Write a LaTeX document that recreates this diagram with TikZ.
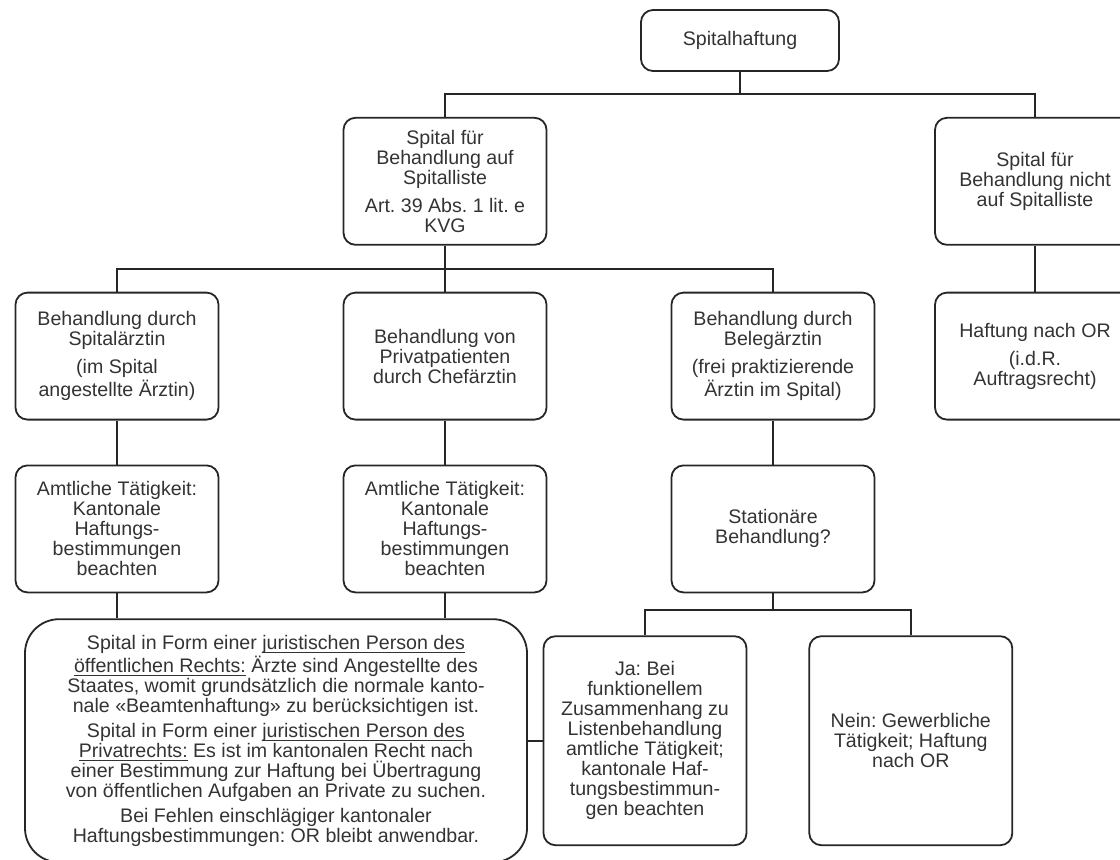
\documentclass[tikz,border=0pt]{standalone}
\usepackage{fontspec}
\setmainfont{Liberation Sans}
\usepackage{tikz}
\usetikzlibrary{positioning}
\definecolor{inkgray}{HTML}{333333}
\newcommand{\flatul}[1]{\setbox0\hbox{#1}\rlap{\smash{\rule[-1.7pt]{\wd0}{0.45pt}}}\box0\relax}
\frenchspacing

\begin{document}
\begin{tikzpicture}
  \tikzstyle{element}=[rectangle, rounded corners=6pt, draw=black!85, line width=0.9pt, minimum width=101.5pt, minimum height=63.5pt, inner sep=2pt, align=center, text=inkgray, font=\fontsize{9.8}{10}\selectfont]
  \tikzstyle{branch}=[draw=black!85, line width=0.9pt]

  \useasboundingbox (0,0) rectangle (560pt,-429.5pt);
  \clip (0,0) rectangle (560pt,-429.5pt);

  % root
  \node[element, minimum width=99pt, minimum height=30.5pt] (haftung) at (370pt,-20.25pt) {Spitalhaftung};

  % = spital auf / nicht auf spitalliste =
  \node[element, below=22.5pt of haftung, xshift=-147.5pt] (aufliste) {Spital für\\Behandlung auf\\Spitalliste\\[4pt]Art. 39 Abs. 1 lit. e\\KVG};
  \node[element, below=22.5pt of haftung, xshift=147.5pt, minimum width=100pt] (nichtliste) {Spital für\\Behandlung nicht\\auf Spitalliste};
  \node[element, below=23pt of nichtliste, minimum width=100pt] (haftungor) {Haftung nach OR\\[4pt](i.d.R.\\Auftragsrecht)};

  % = behandelnde aerztin =
  \node[element, below=23pt of aufliste, xshift=-164pt] (spitalarzt) {Behandlung durch\\Spitalärztin\\[4pt](im Spital\\angestellte Ärztin)};
  \node[element, below=23pt of aufliste] (privat) {Behandlung von\\Privatpatienten\\durch Chefärztin};
  \node[element, below=23pt of aufliste, xshift=164pt] (belegarzt) {Behandlung durch\\Belegärztin\\[4pt](frei praktizierende\\Ärztin im Spital)};

  % = taetigkeit =
  \node[element, below=22pt of spitalarzt] (amtlich1) {Amtliche Tätigkeit:\\Kantonale\\Haftungs-\\bestimmungen\\beachten};
  \node[element, below=22pt of privat] (amtlich2) {Amtliche Tätigkeit:\\Kantonale\\Haftungs-\\bestimmungen\\beachten};
  \node[element, below=22pt of belegarzt] (stationaer) {Stationäre\\Behandlung?};

  % = rechtsform des spitals =
  \node[element, below=12.5pt of amtlich1, xshift=79.5pt, rounded corners=17pt, minimum width=251pt, minimum height=121.5pt] (rechtsform) {Spital in Form einer \flatul{juristischen Person des}\\\flatul{öffentlichen Rechts:} Ärzte sind Angestellte des\\Staates, womit grundsätzlich die normale kanto-\\nale «Beamtenhaftung» zu berücksichtigen ist.\\[2.5pt]Spital in Form einer \flatul{juristischen Person des}\\\flatul{Privatrechts:} Es ist im kantonalen Recht nach\\einer Bestimmung zur Haftung bei Übertragung\\von öffentlichen Aufgaben an Private zu suchen.\\[2.5pt]Bei Fehlen einschlägiger kantonaler\\Haftungsbestimmungen: OR bleibt anwendbar.};

  % = ja / nein =
  \node[element, below=21pt of stationaer, xshift=-64pt, minimum height=104.5pt] (ja) {Ja: Bei\\funktionellem\\Zusammenhang zu\\Listenbehandlung\\amtliche Tätigkeit;\\kantonale Haf-\\tungsbestimmun-\\gen beachten};
  \node[element, right=30.5pt of ja, minimum height=104.5pt] (nein) {Nein: Gewerbliche\\Tätigkeit; Haftung\\nach OR};

  % tree connectors
  \draw[branch] (haftung.south) -- ++(0,-11pt) -| (aufliste.north);
  \draw[branch] (haftung.south) -- ++(0,-11pt) -| (nichtliste.north);
  \draw[branch] (aufliste.south) -- ++(0,-11.5pt) -| (spitalarzt.north);
  \draw[branch] (aufliste.south) -- ++(0,-11.5pt) -| (belegarzt.north);
  \draw[branch] (stationaer.south) -- ++(0,-8.5pt) -| (ja.north);
  \draw[branch] (stationaer.south) -- ++(0,-8.5pt) -| (nein.north);
  \foreach \from/\to in {aufliste/privat, nichtliste/haftungor, spitalarzt/amtlich1, privat/amtlich2, belegarzt/stationaer}
    \draw[branch] (\from.south) -- (\to.north);
  \draw[branch] (amtlich1.south) -- (amtlich1.south |- rechtsform.north);
  \draw[branch] (amtlich2.south) -- (amtlich2.south |- rechtsform.north);
  \draw[branch] (rechtsform.east) -- (ja.west);
\end{tikzpicture}
\end{document}
